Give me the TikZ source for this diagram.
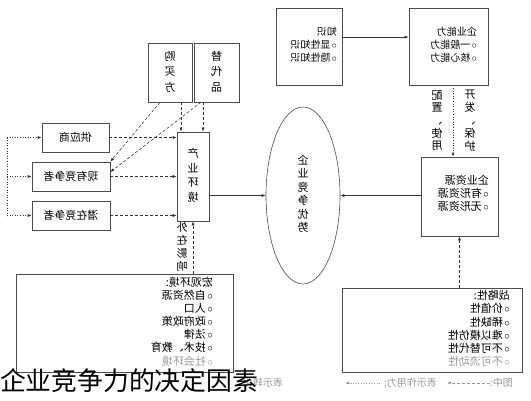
\documentclass[tikz,border=0pt]{standalone}
\usepackage{fontspec}
\setmainfont{Noto Sans CJK SC}
\usepackage{graphicx}
\usetikzlibrary{arrows.meta,shapes.geometric,calc}
\newcommand{\MirL}[1]{\reflectbox{\begin{tabular}{@{}l@{}}#1\end{tabular}}}
\newcommand{\MirC}[1]{\reflectbox{\begin{tabular}{@{}c@{}}#1\end{tabular}}}
\newcommand{\Bul}{$\circ$\hspace{1.5pt}}
\tikzset{
  box/.style={draw=black!70, line width=0.6pt, inner sep=0pt},
  txt/.style={inner sep=0pt},
  small/.style={font=\fontsize{10}{13}\selectfont},
  norm/.style={font=\fontsize{11}{13.2}\selectfont},
  tip/.style={-{Latex[length=4pt,width=3pt]}},
  solar/.style={draw=black!80, line width=0.6pt, tip},
  dashar/.style={draw=black!80, line width=0.55pt, dash pattern=on 3pt off 2pt, tip},
  dotl/.style={draw=black!80, line width=0.7pt, dash pattern=on 0.8pt off 1.8pt},
  dotar/.style={dotl, tip},
  faded/.style={text=black!40}
}
\begin{document}
\begin{tikzpicture}[x=1pt,y=-1pt]
\useasboundingbox (0,0) rectangle (531,400);

% top boxes
\node[box, minimum width=66pt, minimum height=77pt] (know) at (309,46.5) {};
\node[txt, small, anchor=east] (knowt) at (337,46) {\MirL{知识\\ \Bul 显性知识\\ \Bul 隐性知识}};
\node[box, minimum width=79pt, minimum height=77pt] (abil) at (448.5,46.5) {};
\node[txt, small, anchor=east] (abilt) at (477,46) {\MirL{企业能力\\ \Bul 一般能力\\ \Bul 核心能力}};
\coordinate (ya) at (0,37);
\draw[solar] (know.east |- ya) -- (abil.west |- ya);

% resource box
\node[box, minimum width=77pt, minimum height=79pt] (res) at (459.5,196.5) {};
\node[txt, norm, anchor=east] (rest) at (489,195) {\MirL{企业资源\\ \Bul 有形资源\\ \Bul 无形资源}};
\coordinate (xv) at (453,0);
\draw[dotar] (abil.south -| xv) -- (res.north -| xv);
\node[txt, font=\fontsize{11}{12.5}\selectfont] (lab1) at (437,122) {\MirC{配\\ 置\\ 、\\ 使\\ 用}};
\node[txt, font=\fontsize{11}{12.5}\selectfont] (lab2) at (470,122) {\MirC{开\\ 发\\ 、\\ 保\\ 护}};

% ellipse
\node[draw=black!70, line width=0.6pt, ellipse, minimum width=74pt, minimum height=177pt, inner sep=0pt,
      font=\fontsize{11}{13.5}\selectfont] (ell) at (303,195.5) {\MirC{企\\ 业\\ 竞\\ 争\\ 优\\ 势}};
\draw[solar] (ell.east -| res.west) -- (ell.east);

% industry box
\node[box, minimum width=32pt, minimum height=89pt, font=\fontsize{11}{14.5}\selectfont] (ind) at (193,176.5) {\MirC{产\\ 业\\ 环\\ 境}};
\draw[solar] (ell.west -| ind.east) -- (ell.west);

% buyer / substitute
\node[box, minimum width=44pt, minimum height=59pt, font=\fontsize{11}{15.5}\selectfont] (buy) at (170,72.5) {\MirC{购\\ 买\\ 方}};
\node[box, minimum width=45pt, minimum height=59pt, font=\fontsize{11}{15.5}\selectfont] (sub) at (216.5,72.5) {\MirC{替\\ 代\\ 品}};

% left boxes
\node[box, norm, minimum width=67pt, minimum height=29pt] (sup) at (75.5,137.5) {\reflectbox{供应商}};
\node[box, norm, minimum width=78pt, minimum height=29pt] (cur) at (71,176.5) {\reflectbox{现有竞争者}};
\node[box, norm, minimum width=78pt, minimum height=29pt] (pot) at (71,215.5) {\reflectbox{潜在竞争者}};

\draw[dashar] (sup.east) -- (sup.east -| ind.west);
\draw[dashar] (cur.east) -- (cur.east -| ind.west);
\draw[dashar] (pot.east) -- (pot.east -| ind.west);

\coordinate (xb) at (181,0);
\coordinate (xs) at (203,0);
\draw[dashar] (buy.south -| xb) -- (ind.north -| xb);
\draw[dashar] (sub.south -| xs) -- (ind.north -| xs);
\coordinate (xd1) at (160,0);
\coordinate (xd2) at (201,0);
\coordinate (yd2) at (0,172);
\draw[dashar] (buy.south -| xd1) -- (cur.north east);
\draw[dashar] (sub.south -| xd2) -- (cur.east |- yd2);

\coordinate (xl) at (7,0);
\draw[dotl] (sup.west -| xl) -- (pot.west -| xl);
\draw[dotar] (sup.west -| xl) -- (sup.west);
\draw[dotar] (cur.west -| xl) -- (cur.west);
\draw[dotar] (pot.west -| xl) -- (pot.west);

% macro box
\node[box, minimum width=217pt, minimum height=98pt] (mac) at (124.5,323) {};
\node[txt, font=\fontsize{11}{12.8}\selectfont, anchor=east] (mact) at (213,323) {\MirL{宏观环境:\\ \Bul 自然资源\\ \Bul 人口\\ \Bul 政府政策\\ \Bul 法律\\ \Bul 技术、教育\\ \color{black!40}\Bul 社会环境}};
\draw[dashar] (mac.north -| ind.south) -- (ind.south);
\node[txt, font=\fontsize{11}{12.5}\selectfont] (ext) at (182,248) {\MirC{外\\ 在\\ 影\\ 响}};

% strategic box
\node[box, minimum width=180pt, minimum height=84pt] (str) at (432,330) {};
\node[txt, font=\fontsize{11}{13.2}\selectfont, anchor=east] (strt) at (510,330) {\MirL{战略性:\\ \Bul 价值性\\ \Bul 稀缺性\\ \Bul 难以模仿性\\ \Bul 不可替代性\\ \color{black!40}\Bul 不可流动性}};
\draw[dashar] (str.north -| res.south) -- (res.south);

% legend
\node[txt, faded, font=\fontsize{10}{12}\selectfont, anchor=east] (lg0) at (513,383) {\reflectbox{图中:}};
\coordinate (lg1) at (490,383);
\coordinate (lg2) at (447,383);
\coordinate (lg3) at (380,383);
\coordinate (lg4) at (345,383);
\draw[dashar, draw=black!40] (lg1) -- (lg2);
\node[txt, faded, font=\fontsize{10}{12}\selectfont, anchor=east] (lg5) at (437,383) {\reflectbox{表示作用力;}};
\draw[dotar, draw=black!40] (lg3) -- (lg4);
\node[txt, faded, font=\fontsize{10}{12}\selectfont, anchor=east] (lg6) at (283,383) {\reflectbox{表示转化}};

% caption
\node[txt, font=\fontsize{25.8}{30}\selectfont, anchor=west] (cap) at (0,381) {企业竞争力的决定因素};
\end{tikzpicture}
\end{document}
